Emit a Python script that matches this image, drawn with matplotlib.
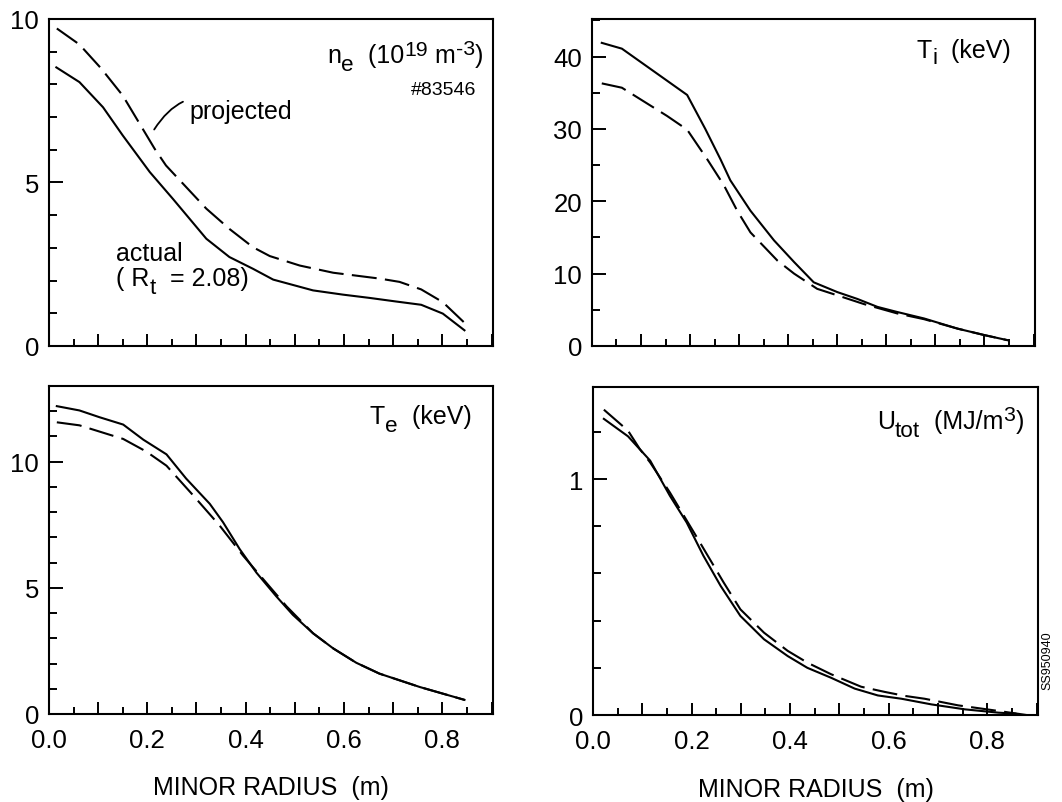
import matplotlib
matplotlib.use('Agg')
import matplotlib.pyplot as plt
import matplotlib.transforms as mtransforms
from matplotlib.ticker import MultipleLocator, FuncFormatter

plt.rcParams['font.family'] = ['Liberation Sans', 'DejaVu Sans']
plt.rcParams['mathtext.default'] = 'regular'

# electron density (10^19 m^-3)
ne_r_act = [0.015, 0.062, 0.110, 0.150, 0.205, 0.252, 0.320, 0.367, 0.415, 0.456,
            0.537, 0.598, 0.652, 0.706, 0.757, 0.801, 0.845]
ne_act = [8.52, 8.07, 7.30, 6.44, 5.32, 4.50, 3.28, 2.72, 2.36, 2.03,
          1.70, 1.57, 1.47, 1.36, 1.26, 0.99, 0.48]
ne_r_proj = [0.016, 0.062, 0.106, 0.150, 0.215, 0.238, 0.320, 0.367, 0.415, 0.449,
             0.510, 0.578, 0.673, 0.713, 0.757, 0.801, 0.845]
ne_proj = [9.71, 9.22, 8.49, 7.66, 6.03, 5.52, 4.20, 3.58, 3.02, 2.75,
           2.46, 2.24, 2.06, 1.96, 1.73, 1.34, 0.71]

# ion temperature (keV)
ti_r_act = [0.020, 0.061, 0.194, 0.231, 0.262, 0.282, 0.323, 0.371, 0.412, 0.452,
            0.500, 0.541, 0.582, 0.622, 0.677, 0.745, 0.800, 0.847]
ti_act = [41.9, 41.1, 34.7, 30.0, 25.8, 22.9, 18.7, 14.6, 11.6, 8.8,
          7.45, 6.5, 5.4, 4.7, 3.8, 2.4, 1.5, 0.8]
ti_r_proj = [0.020, 0.061, 0.153, 0.194, 0.235, 0.269, 0.296, 0.323, 0.378, 0.412,
             0.459, 0.500, 0.554, 0.622, 0.677, 0.745, 0.800, 0.847]
ti_proj = [36.3, 35.7, 31.8, 29.9, 25.8, 22.2, 18.7, 15.7, 11.8, 10.0,
           7.9, 7.0, 5.8, 4.5, 3.7, 2.4, 1.5, 0.8]

# electron temperature (keV)
te_r_act = [0.016, 0.062, 0.103, 0.151, 0.192, 0.239, 0.279, 0.327, 0.354, 0.388,
            0.422, 0.462, 0.496, 0.537, 0.578, 0.625, 0.672, 0.754, 0.845]
te_act = [12.2, 12.03, 11.76, 11.47, 10.87, 10.29, 9.33, 8.33, 7.6, 6.53,
          5.6, 4.67, 3.93, 3.2, 2.6, 2.03, 1.6, 1.07, 0.56]
te_r_proj = [0.016, 0.062, 0.151, 0.198, 0.239, 0.293, 0.347, 0.395, 0.442, 0.483,
             0.537, 0.578, 0.625, 0.672, 0.754, 0.845]
te_proj = [11.56, 11.44, 10.9, 10.4, 9.84, 8.67, 7.47, 6.27, 5.2, 4.27,
           3.2, 2.6, 2.03, 1.6, 1.07, 0.56]

# total energy density (MJ/m^3)
u_r_act = [0.022, 0.071, 0.116, 0.156, 0.190, 0.224, 0.259, 0.299, 0.347, 0.395,
           0.435, 0.483, 0.531, 0.578, 0.626, 0.687, 0.755, 0.823, 0.857]
u_act = [1.255, 1.181, 1.078, 0.929, 0.816, 0.675, 0.547, 0.420, 0.321, 0.250,
         0.200, 0.158, 0.112, 0.083, 0.069, 0.045, 0.024, 0.010, 0.006]
u_r_proj = [0.022, 0.071, 0.095, 0.116, 0.156, 0.211, 0.265, 0.299, 0.347, 0.395,
            0.435, 0.483, 0.544, 0.592, 0.633, 0.673, 0.741, 0.810, 0.857, 0.880]
u_proj = [1.294, 1.205, 1.127, 1.070, 0.943, 0.752, 0.562, 0.448, 0.349, 0.272,
          0.222, 0.173, 0.120, 0.098, 0.081, 0.069, 0.041, 0.021, 0.007, 0.0]

fig = plt.figure(figsize=(10.62, 8.03), dpi=100)
ax_ne = fig.add_axes([0.0461, 0.5679, 0.4181, 0.4072])
ax_ti = fig.add_axes([0.5574, 0.5679, 0.4172, 0.4072])
ax_te = fig.add_axes([0.0461, 0.1096, 0.4181, 0.4085])
ax_u = fig.add_axes([0.5584, 0.1083, 0.4190, 0.4085])

dash = (0, (12, 4))
lw = 1.5
FS = 18


def style(ax, ylim, ymaj, ymin, bottom):
    ax.set_xlim(0, 0.903)
    ax.set_ylim(*ylim)
    ax.xaxis.set_major_locator(MultipleLocator(0.1))
    ax.xaxis.set_minor_locator(MultipleLocator(0.05))
    ax.yaxis.set_major_locator(MultipleLocator(ymaj))
    ax.yaxis.set_minor_locator(MultipleLocator(ymin))
    for s in ax.spines.values():
        s.set_linewidth(1.5)
    ax.tick_params(axis='both', which='both', direction='in', width=1.4,
                   labelsize=18.5, top=False, right=False)
    ax.tick_params(axis='y', which='major', length=10, pad=7)
    ax.tick_params(axis='y', which='minor', length=6)
    ax.tick_params(axis='x', which='major', length=9, pad=10)
    ax.tick_params(axis='x', which='minor', length=5)
    ax.yaxis.set_major_formatter(FuncFormatter(lambda v, p: f'{v:g}'))
    if bottom:
        ax.xaxis.set_major_formatter(FuncFormatter(
            lambda v, p: f'{v:.1f}' if round(v * 10) % 2 == 0 else ''))
        ax.set_xlabel('MINOR RADIUS  (m)', fontsize=18, labelpad=17)
    else:
        ax.set_xticklabels([])


renderer = fig.canvas.get_renderer()


def rich(ax, x, y, parts, size, ha='right'):
    # parts: (text, vertical shift in em, size scale)
    widths = []
    for s, dy, sc in parts:
        t = ax.text(0, 0, s, fontsize=size * sc)
        widths.append(t.get_window_extent(renderer).width)
        t.remove()
    off = -sum(widths) if ha == 'right' else 0.0
    for (s, dy, sc), w in zip(parts, widths):
        tr = mtransforms.offset_copy(ax.transData, fig=fig, x=off,
                                     y=dy * size * fig.dpi / 72, units='dots')
        ax.text(x, y, s, fontsize=size * sc, transform=tr, ha='left', va='baseline')
        off += w


style(ax_ne, (0, 10), 5, 1, False)
style(ax_ti, (0, 45.2), 10, 5, False)
style(ax_te, (0, 13.0), 5, 1, True)
style(ax_u, (0, 1.39), 1, 0.2, True)

ax_ne.plot(ne_r_act, ne_act, color='black', lw=lw)
ax_ne.plot(ne_r_proj, ne_proj, color='black', lw=lw, linestyle=dash)
ax_ti.plot(ti_r_act, ti_act, color='black', lw=lw)
ax_ti.plot(ti_r_proj, ti_proj, color='black', lw=lw, linestyle=dash)
ax_te.plot(te_r_act, te_act, color='black', lw=lw)
ax_te.plot(te_r_proj, te_proj, color='black', lw=lw, linestyle=dash)
ax_u.plot(u_r_act, u_act, color='black', lw=lw)
ax_u.plot(u_r_proj, u_proj, color='black', lw=lw, linestyle=dash)

# panel labels
rich(ax_ne, 0.883, 8.68, [('n', 0, 1), ('e', -0.3, 0.9), ('  (10', 0, 1),
                          ('19', 0.3, 0.85), (' m', 0, 1), ('-3', 0.33, 0.85),
                          (')', 0, 1)], FS)
ax_ne.text(0.869, 7.71, '#83546', fontsize=14, ha='right', va='baseline')
ax_ne.text(0.137, 2.62, 'actual', fontsize=18, ha='left', va='baseline')
rich(ax_ne, 0.137, 1.85, [('( R', 0, 1), ('t', -0.3, 0.9), ('  = 2.08)', 0, 1)],
     FS, ha='left')
ax_ne.annotate('projected', xy=(0.214, 6.62), xytext=(0.286, 7.2), fontsize=18,
               ha='left', va='center',
               arrowprops=dict(arrowstyle='-', connectionstyle='arc3,rad=0.5',
                               lw=1.3, color='black', shrinkA=3, shrinkB=0))
rich(ax_ti, 0.854, 40.0, [('T', 0, 1), ('i', -0.25, 0.9), ('  (keV)', 0, 1)], FS)
rich(ax_te, 0.859, 11.53, [('T', 0, 1), ('e', -0.3, 0.9), ('  (keV)', 0, 1)], FS)
rich(ax_u, 0.874, 1.215, [('U', 0, 1), ('tot', -0.3, 0.9), ('  (MJ/m', 0, 1),
                          ('3', 0.33, 0.85), (')', 0, 1)], FS)

fig.text(1047 / 1062, 1 - 661 / 803, 'SS950940', rotation=90, fontsize=9,
         ha='center', va='center')

fig.savefig('out.png', dpi=100)
